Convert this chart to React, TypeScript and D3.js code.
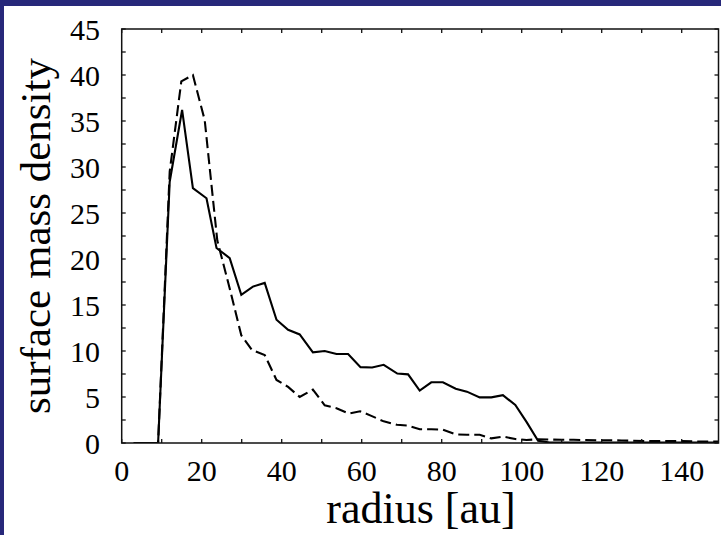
import React from "react";
import * as d3 from "d3";

// solid curve
const solidR = [3, 6, 9.1, 12, 15.1, 17.8, 21.2, 23.7, 27, 29.9, 32.8, 35.75, 38.7, 41.6, 44.5, 47.8, 50.75, 53.7, 56.6, 59.7, 62.6, 65.5, 68.9, 71.6, 74.5, 77.4, 80.3, 83.5, 86.3, 89.5, 92.4, 95.3, 98.4, 101.2, 104.1, 107, 110, 113, 116, 119, 122, 125, 128, 131, 134, 137, 140, 143, 146, 149.2];
const solidS = [0, 0, 0, 28.4, 36.2, 27.7, 26.6, 21.2, 20.1, 16.1, 17.0, 17.4, 13.4, 12.3, 11.8, 9.86, 10.0, 9.67, 9.67, 8.25, 8.2, 8.5, 7.55, 7.46, 5.69, 6.6, 6.6, 5.9, 5.58, 4.96, 4.96, 5.2, 4.13, 2.3, 0.25, 0.05, 0.05, 0.05, 0.05, 0.05, 0.05, 0.05, 0.05, 0.05, 0.05, 0.05, 0.05, 0.05, 0.05, 0.05];

// dashed curve
const dashR = [3, 6, 9.1, 12, 14.9, 17.8, 20.75, 23.9, 27, 29.9, 32.6, 35.75, 38.7, 41.6, 44.5, 47.8, 50.75, 53.7, 56.8, 59.6, 62.4, 65.5, 68.8, 71.6, 74.5, 77.4, 80.3, 83.5, 86.3, 89.5, 92.4, 95.3, 98.4, 101.2, 104.1, 107, 110, 113, 116, 119, 122, 125, 128, 131, 134, 137, 140, 143, 146, 149.2];
const dashS = [0, 0, 0, 29.5, 39.3, 40.0, 35.1, 22.0, 16.8, 11.7, 10.1, 9.57, 6.85, 6.1, 5.0, 5.8, 4.1, 3.77, 3.2, 3.45, 2.95, 2.35, 1.98, 1.9, 1.49, 1.49, 1.45, 0.94, 0.9, 0.9, 0.5, 0.7, 0.43, 0.33, 0.4, 0.38, 0.35, 0.35, 0.32, 0.3, 0.3, 0.27, 0.25, 0.22, 0.2, 0.2, 0.22, 0.18, 0.15, 0.15];

const xTickLabels = [0, 20, 40, 60, 80, 100, 120, 140];
const yTickLabels = [0, 5, 10, 15, 20, 25, 30, 35, 40, 45];

export default function App() {
  const W = 721, H = 535;
  const left = 121.7, right = 718.5, top = 29, bottom = 443;
  const x = d3.scaleLinear().domain([0, 149.2]).range([left, right]);
  const y = d3.scaleLinear().domain([0, 45]).range([bottom, top]);
  const line = d3.line<[number, number]>().x(d => x(d[0])).y(d => y(d[1]));
  const solid = solidR.map((r, i) => [r, solidS[i]] as [number, number]);
  const dashed = dashR.map((r, i) => [r, dashS[i]] as [number, number]);
  const xMinor = d3.range(0, 150, 10);
  const yMinor = d3.range(0, 45.01, 2.5);
  const font = "'Liberation Serif', 'Times New Roman', serif";
  const tl = 4;
  return (
    <svg width={W} height={H} style={{ position: "absolute", left: 0, top: 0 }}>
      <rect x={0} y={0} width={W} height={H} fill="#27287a" />
      <rect x={4} y={6} width={W - 4} height={H - 6} fill="#ffffff" />
      <defs>
        <clipPath id="plotclip">
          <rect x={left} y={top} width={right - left} height={bottom - top} />
        </clipPath>
      </defs>
      <g clipPath="url(#plotclip)">
        <path d={line(dashed) || ""} fill="none" stroke="#000" strokeWidth={2.1} strokeDasharray="11,5" />
        <path d={line(solid) || ""} fill="none" stroke="#000" strokeWidth={2.1} />
      </g>
      <rect x={left} y={top} width={right - left} height={bottom - top} fill="none" stroke="#111" strokeWidth={1.5} />
      {xMinor.map(v => (
        <g key={"xt" + v}>
          <line x1={x(v)} x2={x(v)} y1={bottom} y2={bottom - tl} stroke="#111" strokeWidth={1.3} />
          <line x1={x(v)} x2={x(v)} y1={top} y2={top + tl} stroke="#111" strokeWidth={1.3} />
        </g>
      ))}
      {yMinor.map(v => (
        <g key={"yt" + v}>
          <line x1={left} x2={left + tl} y1={y(v)} y2={y(v)} stroke="#111" strokeWidth={1.3} />
          <line x1={right} x2={right - tl} y1={y(v)} y2={y(v)} stroke="#111" strokeWidth={1.3} />
        </g>
      ))}
      {xTickLabels.map(v => (
        <text key={"xl" + v} x={x(v)} y={481} textAnchor="middle" fontFamily={font} fontSize={30} fill="#000">{v}</text>
      ))}
      {yTickLabels.map(v => (
        <text key={"yl" + v} x={100} y={y(v) + 10.5} textAnchor="end" fontFamily={font} fontSize={30} fill="#000">{v}</text>
      ))}
      <text x={421} y={523} textAnchor="middle" fontFamily={font} fontSize={44} fill="#000">radius [au]</text>
      <text transform={`translate(50,236) rotate(-90)`} textAnchor="middle" fontFamily={font} fontSize={43} fill="#000">surface mass density</text>
    </svg>
  );
}
